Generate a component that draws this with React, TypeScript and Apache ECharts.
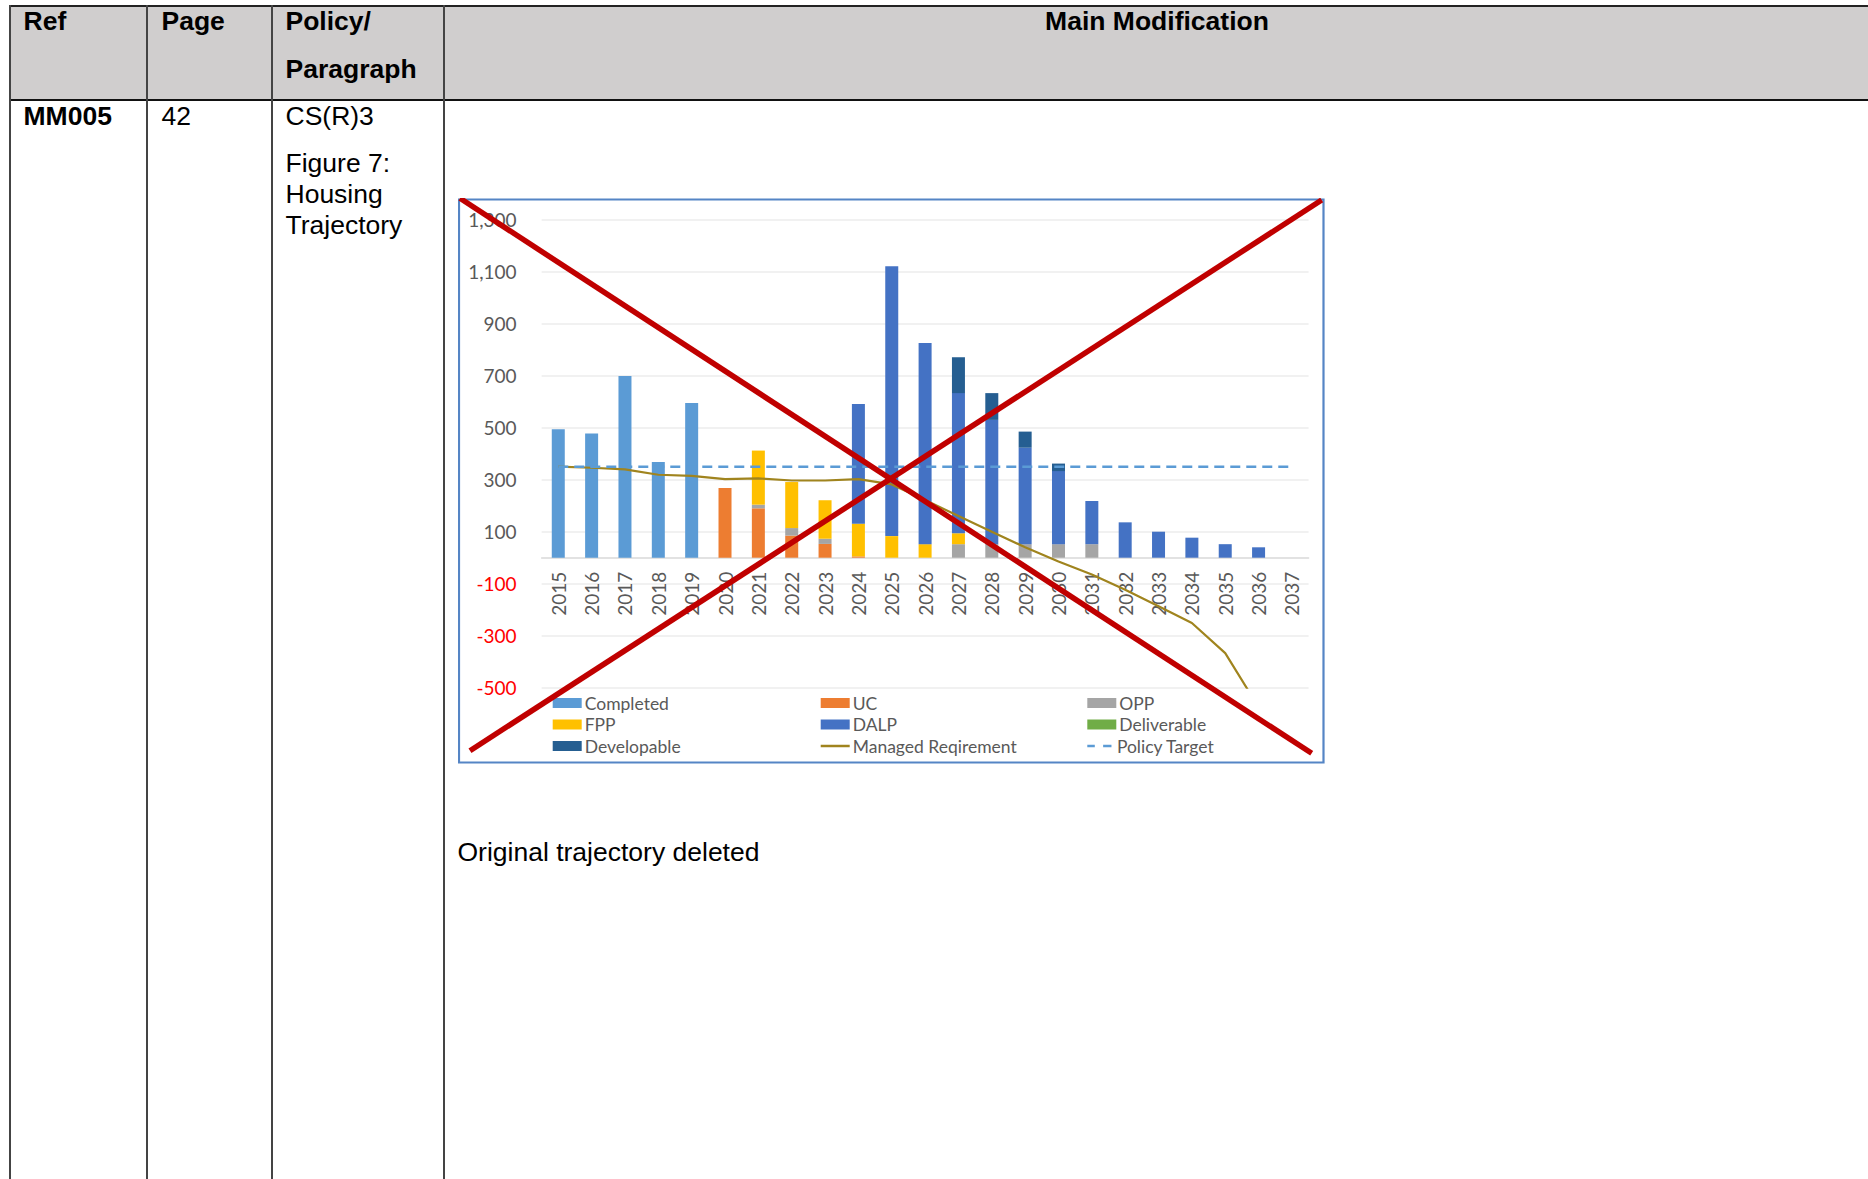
import React, { useEffect, useRef } from "react";
import * as echarts from "echarts";

// ---- Data ----
const years = [
  "2015", "2016", "2017", "2018", "2019", "2020", "2021", "2022", "2023", "2024", "2025", "2026",
  "2027", "2028", "2029", "2030", "2031", "2032", "2033", "2034", "2035", "2036", "2037",
];
const completed = [494, 478, 699, 368, 595, null, null, null, null, null, null, null, null, null, null, null, null, null, null, null, null, null, null];
const uc = [null, null, null, null, null, 268, 190, 85, 53, 5, null, null, null, null, null, null, null, null, null, null, null, null, null];
const opp = [null, null, null, null, null, null, 14, 29, 20, null, null, null, 52, 52, 52, 52, 52, null, null, null, null, null, null];
const fpp = [null, null, null, null, null, null, 208, 177, 148, 126, 83, 52, 42, null, null, null, null, null, null, null, null, null, null];
const dalp = [null, null, null, null, null, null, null, null, null, 460, 1038, 774, 539, 478, 371, 281, 166, 136, 100, 77, 52, 40, null];
const deliverable = [null, null, null, null, null, null, null, null, null, null, null, null, null, null, null, null, null, null, null, null, null, null, null];
const developable = [null, null, null, null, null, null, null, null, null, null, null, null, 138, 103, 62, 29, null, null, null, null, null, null, null];
const managedRequirement = [350, 346, 340, 319, 315, 302, 305, 297, 297, 302, 282, 222, 160, 100, 40, -15, -65, -123, -187, -251, -367, -575, null];
const policyTarget = [350, 350, 350, 350, 350, 350, 350, 350, 350, 350, 350, 350, 350, 350, 350, 350, 350, 350, 350, 350, 350, 350, 350];

const yMin = -500;
const yMax = 1300;
const yStep = 200;

const legendCol1 = ["Completed", "FPP", "Developable"];
const legendCol2 = ["UC", "DALP"];
const legendCol3 = ["OPP", "Deliverable"];
const legendLine1 = "Managed Reqirement";
const legendLine2 = "Policy Target";

// ---- Layout constants ----
const CH_LEFT = 458;
const CH_TOP = 198;
const CH_W = 867;
const CH_H = 567;
const GRID_H = 468;

const FONT = "'Liberation Sans', Arial, sans-serif";
const TXT = 26.5;

function Txt(props: { x: number; base: number; text: string; bold?: boolean; center?: boolean }) {
  const top = props.base - 0.8465 * TXT;
  const style: React.CSSProperties = {
    position: "absolute",
    top,
    left: props.x,
    fontFamily: FONT,
    fontSize: TXT,
    lineHeight: `${TXT}px`,
    fontWeight: props.bold ? 700 : 400,
    color: "#000",
    whiteSpace: "nowrap",
    transform: props.center ? "translateX(-50%)" : undefined,
  };
  return <div style={style}>{props.text}</div>;
}

function Chart() {
  const ref = useRef<HTMLDivElement>(null);
  useEffect(() => {
    if (!ref.current) return;
    const chart = echarts.init(ref.current, undefined, { renderer: "svg" });
    const cf = "Lato, 'Liberation Sans', sans-serif";
    const textStyle = { fontSize: 17.5, color: "#595959", fontFamily: cf, lineHeight: 21, padding: [0, 0, 0, -2] };
    const legendBase = {
      orient: "vertical" as const,
      top: 494.5,
      padding: 0,
      itemGap: 0.5,
      itemWidth: 29,
      itemHeight: 10,
      textStyle,
    };
    const lineLegend = {
      orient: "vertical" as const,
      top: 537.5,
      padding: 0,
      itemWidth: 29,
      itemHeight: 2.5,
      textStyle,
    };
    const mk = (names: string[]) => names.map((n) => ({ name: n, icon: "rect" }));
    const barSeries = (name: string, data: (number | null)[], color: string) => ({
      name,
      type: "bar" as const,
      stack: "total",
      barWidth: 13,
      data,
      itemStyle: { color },
    });
    chart.setOption({
      animation: false,
      textStyle: { fontFamily: cf },
      grid: { left: 83.6, top: 21.7, width: 767, height: GRID_H, containLabel: false, outerBoundsMode: "none" },
      xAxis: {
        type: "category",
        data: years,
        offset: -(GRID_H * (0 - yMin)) / (yMax - yMin),
        axisLine: { onZero: false, lineStyle: { color: "#D9D9D9", width: 1.5 } },
        axisTick: { show: false },
        axisLabel: { rotate: 90, interval: 0, margin: 14, color: "#595959", fontSize: 19, fontFamily: cf },
        splitLine: { show: false },
      },
      yAxis: {
        type: "value",
        min: yMin,
        max: yMax,
        interval: yStep,
        axisLine: { show: false },
        axisTick: { show: false },
        axisLabel: {
          margin: 25,
          fontSize: 19,
          fontFamily: cf,
          color: (v: any) => (Number(v) < 0 ? "#FF0000" : "#595959"),
          formatter: (v: number) => v.toLocaleString("en-US"),
        },
        splitLine: { lineStyle: { color: "#EDEDED", width: 1.5 } },
      },
      legend: [
        { ...legendBase, left: 94.7, data: mk(legendCol1) },
        { ...legendBase, left: 362.7, data: mk(legendCol2) },
        { ...legendBase, left: 629.3, data: mk(legendCol3) },
        { ...lineLegend, left: 362.7, data: [{ name: legendLine1, icon: "rect" }] },
        {
          ...lineLegend,
          left: 629.3,
          data: [{ name: legendLine2, icon: "path://M0,0h9v3h-9zM19,0h10v3h-10z" }],
        },
      ],
      series: [
        barSeries("Completed", completed, "#5B9BD5"),
        barSeries("UC", uc, "#ED7D31"),
        barSeries("OPP", opp, "#A5A5A5"),
        barSeries("FPP", fpp, "#FFC000"),
        barSeries("DALP", dalp, "#4472C4"),
        barSeries("Deliverable", deliverable, "#70AD47"),
        barSeries("Developable", developable, "#255E91"),
        {
          name: legendLine1,
          type: "line",
          data: managedRequirement,
          symbol: "none",
          showSymbol: false,
          clip: true,
          lineStyle: { color: "#A0841E", width: 2.2 },
          itemStyle: { color: "#A0841E" },
        },
        {
          name: legendLine2,
          type: "line",
          data: policyTarget,
          symbol: "none",
          showSymbol: false,
          lineStyle: { color: "#5B9BD5", width: 2.5, type: [10, 6] },
          itemStyle: { color: "#5B9BD5" },
        },
      ],
      graphic: [
        {
          type: "rect",
          silent: true,
          z: 50,
          shape: { x: 1, y: 1.5, width: 864.5, height: 563 },
          style: { fill: "none", stroke: "#5585C5", lineWidth: 2.2 },
        },
        {
          type: "line",
          silent: true,
          z: 100,
          shape: { x1: 2, y1: 0.3, x2: 853.7, y2: 555.3 },
          style: { stroke: "#C00000", lineWidth: 5.5 },
        },
        {
          type: "line",
          silent: true,
          z: 100,
          shape: { x1: 863.7, y1: 2, x2: 12, y2: 552.7 },
          style: { stroke: "#C00000", lineWidth: 5.5 },
        },
      ],
    });
    return () => chart.dispose();
  }, []);
  return (
    <div
      ref={ref}
      style={{ position: "absolute", left: CH_LEFT, top: CH_TOP, width: CH_W, height: CH_H }}
    />
  );
}

export default function App() {
  const vLines = [9.7, 146.7, 271.7, 444];
  return (
    <div
      style={{
        position: "absolute",
        left: 0,
        top: 0,
        width: 1868,
        height: 1179,
        overflow: "hidden",
        background: "#fff",
      }}
    >
      {/* header background */}
      <div style={{ position: "absolute", left: 10, top: 6, width: 1858, height: 94, background: "#D0CECE" }} />
      {/* horizontal lines */}
      <div style={{ position: "absolute", left: 8.7, top: 4.7, width: 1860, height: 2, background: "#222" }} />
      <div style={{ position: "absolute", left: 8.7, top: 98.8, width: 1860, height: 1.8, background: "#111" }} />
      {/* vertical lines */}
      {vLines.map((x, i) => (
        <div
          key={i}
          style={{ position: "absolute", left: x - 1, top: 4.7, width: 2, height: 1179, background: "#444" }}
        />
      ))}
      {/* header texts */}
      <Txt x={23.5} base={30.7} text="Ref" bold />
      <Txt x={161.5} base={30.7} text="Page" bold />
      <Txt x={285.5} base={30.7} text="Policy/" bold />
      <Txt x={285.5} base={78.3} text="Paragraph" bold />
      <Txt x={1157} base={30.7} text="Main Modification" bold center />
      {/* body texts */}
      <Txt x={23.5} base={125.8} text="MM005" bold />
      <Txt x={161.5} base={125.8} text="42" />
      <Txt x={285.5} base={125.8} text="CS(R)3" />
      <Txt x={285.5} base={172.3} text="Figure 7:" />
      <Txt x={285.5} base={203.3} text="Housing" />
      <Txt x={285.5} base={234.3} text="Trajectory" />
      <Txt x={457.5} base={861} text="Original trajectory deleted" />
      <Chart />
    </div>
  );
}
